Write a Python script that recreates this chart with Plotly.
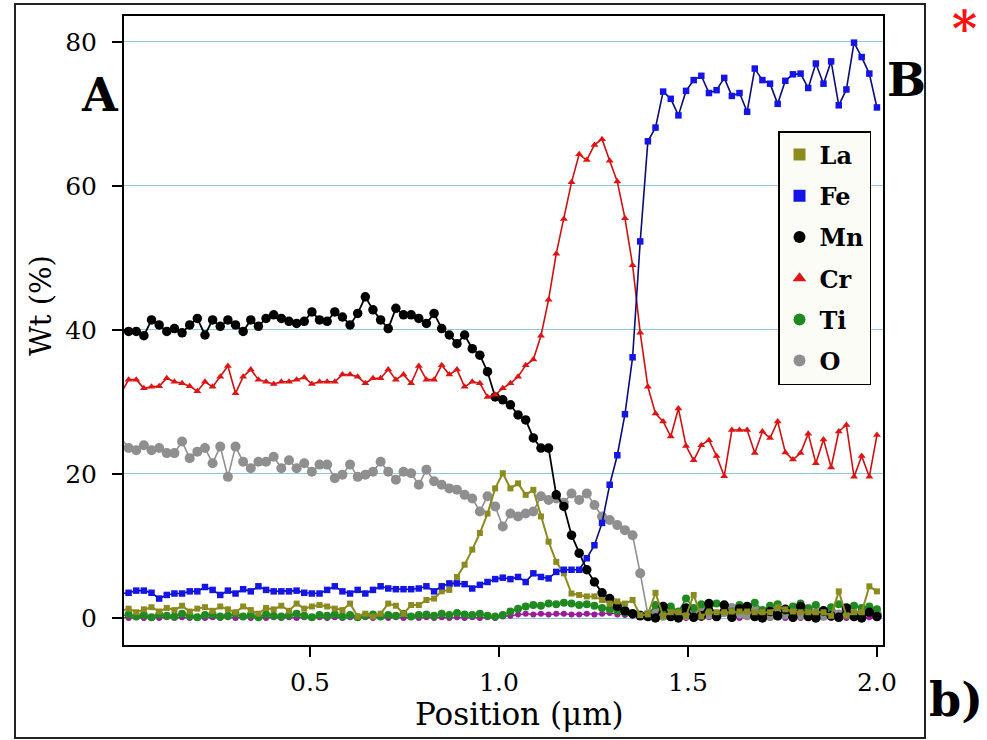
import numpy as np
import plotly.graph_objects as go

# ---------------- data ----------------
position = np.linspace(0.0, 2.0, 100).tolist()

la = [1.0, 1.3, 0.8, 1.2, 1.5, 0.9, 1.4, 1.1, 1.7, 0.9, 1.3, 1.5, 1.0, 1.6, 1.2, 0.8, 1.6, 1.1, 0.6, 1.4,
      1.2, 1.7, 1.0, 2.0, 1.3, 1.6,
      1.8, 1.6, 1.3, 1.1, 2.0, 0.2, 0.6, 0.2, 0.6, 2.0, 1.7, 0.6, 1.8, 1.8,
      2.5, 2.7, 3.7, 3.9, 5.7, 7.4, 9.5, 11.8, 14.5, 18.0, 20.1, 18.0, 18.7, 17.1, 17.8, 14.1, 10.6, 7.8, 6.2,
      3.4, 3.2, 3.0, 3.0, 2.5, 2.0, 2.3, 2.0, 2.5, 0.4,
      0.5, 3.5, 0.3, 0.8, 0.8, 0.3, 3.2, 0.2, 0.8, 0.8, 0.8, 0.9, 0.9, 0.9, 0.8, 0.8, 0.8, 1.5, 1.2, 0.9,
      0.8, 0.8, 0.8, 0.8, 0.3, 3.7, 0.3, 0.8, 0.8, 4.4, 3.7]

fe = [3.4, 3.5, 3.8, 3.8, 3.5, 2.7, 3.2, 3.4, 3.4, 3.7, 3.7, 4.3, 3.9, 3.2, 3.8, 3.4, 4.0, 3.7, 4.4, 3.9,
      3.7, 3.7, 3.7, 3.8, 3.5, 3.4,
      3.4, 3.9, 4.4, 3.7, 3.4, 3.9, 3.4, 3.9, 4.4, 4.1, 4.0, 4.0, 4.0, 4.1, 4.4, 3.7, 4.4, 4.8, 4.8, 4.7,
      4.1, 4.6,
      5.0, 5.4, 5.6, 5.4, 5.7, 5.0, 6.2, 5.7, 5.5, 6.4, 6.7, 6.7, 6.7, 8.3, 10.1, 13.2, 18.5, 22.6, 28.3,
      36.2, 52.3,
      66.2, 68.1, 73.1, 72.1, 69.8, 73.2, 74.7, 75.3, 72.9, 73.3, 75.0, 72.5, 72.9, 70.3, 76.3, 74.7, 74.2,
      71.4, 74.6, 75.5, 75.6, 73.6, 77.0, 74.2, 77.3, 71.2, 73.4, 79.9, 77.9, 75.6, 70.9]

mn = [40.2, 39.8, 39.8, 39.2, 41.4, 40.7, 39.8, 40.2, 39.6, 40.7, 41.6, 39.3, 41.4, 40.5, 41.4, 40.7, 39.8,
      41.4, 40.5, 41.6, 42.1, 41.6, 41.2, 40.9, 41.2, 42.5, 41.4, 41.2, 42.5, 41.8, 40.7, 42.3, 44.6, 42.8,
      41.4, 40.2, 43.0, 42.1, 42.1, 41.6, 40.9, 42.3, 40.2, 39.3, 38.1, 39.3, 37.4, 36.5, 34.2,
      30.7, 30.3, 29.6, 28.2, 27.5, 25.0, 23.6, 23.6, 17.1, 15.5, 11.5, 9.0, 6.7, 5.0, 3.5,
      2.7, 1.6, 1.0, 0.6, 0.3, 0.2, 0.0, 1.6, 0.2, 0.0, 1.4, 0.1, 0.3, 2.0, 0.2, 1.8, 0.1, 1.3, 1.6, 0.2,
      0.0, 0.9, 0.3, 1.2, 0.1, 1.6, 0.2, 0.0, 1.0, 0.3, 0.1, 1.4, 0.2, 0.0, 0.8, 0.2]

cr = [31.2, 33.1, 33.1, 31.9, 32.1, 32.2, 33.3, 32.8, 32.6, 32.2, 31.5, 32.8, 32.1, 33.5, 35.0, 31.2, 33.5,
      34.5, 33.1, 32.8, 32.5, 32.8, 32.8, 33.1, 33.4, 32.5,
      32.8, 32.8, 32.8, 33.8, 33.8, 33.5, 32.6, 33.3, 33.3, 34.5, 33.1, 33.8, 32.6, 35.0, 33.1, 33.1, 35.1,
      33.8, 34.5, 32.1, 32.8, 32.6, 30.7, 31.0,
      31.9, 32.6, 33.5, 35.1, 35.9, 39.2, 44.2, 50.6, 55.4, 60.5, 64.4, 63.6, 65.7, 66.5, 63.5, 60.6, 55.5,
      49.0, 39.6,
      32.1, 28.4, 27.3, 25.2, 29.1, 23.9, 21.9, 24.0, 24.7, 22.5, 19.7, 26.1, 26.1, 26.1, 22.9, 25.9, 25.0,
      27.3, 23.0, 22.0, 22.9, 25.6, 21.5, 24.8, 20.9, 25.9, 26.8, 19.6, 22.5, 19.6, 25.4]

ti = [0.3, 0.5, 0.2, 0.4, 0.1, 0.5, 0.3, 0.2, 0.6, 0.3, 0.1, 0.4, 0.5, 0.2, 0.3, 0.6, 0.2, 0.4, 0.1, 0.5,
      0.3, 0.2, 0.4, 0.6, 0.3, 0.1, 0.4, 0.3, 0.5, 0.2, 0.4, 0.1, 0.3, 0.5, 0.2, 0.4, 0.3, 0.6, 0.2, 0.4,
      0.5, 0.3, 0.6, 0.4, 0.7, 0.5, 0.4, 0.6, 0.3, 0.2,
      0.4, 0.9, 1.3, 1.6, 1.8, 1.7, 2.0, 1.9, 2.1, 2.0, 1.8, 1.9, 1.7, 1.4, 1.2, 1.0, 0.8, 0.6, 0.5,
      0.4, 1.8, 1.0, 1.6, 0.9, 2.7, 1.4, 1.9, 1.2, 2.0, 1.7, 0.9, 1.8, 1.5, 2.1, 1.1, 1.7, 1.9, 1.0, 1.6,
      2.0, 1.3, 1.8, 0.8, 1.5, 1.9, 1.2, 1.7, 1.4, 1.6, 1.2]

o = [25.0, 23.6, 23.3, 24.0, 23.3, 23.6, 22.9, 22.9, 24.5, 22.2, 23.1, 23.6, 21.5, 23.8, 19.6, 23.8, 21.7,
     20.8, 21.7, 21.7, 22.4, 20.8, 21.9, 20.8, 21.5, 20.3,
     21.3, 21.3, 19.4, 19.9, 21.3, 19.6, 19.9, 20.3, 21.7, 20.3, 19.2, 20.3, 20.1, 18.5, 20.6, 19.0, 18.5,
     18.0, 17.8, 17.1, 16.6,
     14.8, 16.9, 15.5, 12.7, 14.5, 14.1, 14.5, 14.8, 16.9, 16.4, 16.6, 16.0, 17.3, 16.4, 17.3, 15.7, 14.1,
     13.6, 12.9, 12.2, 11.5, 6.2,
     0.5, 0.8, 0.3, 1.0, 0.6, 0.4, 0.9, 1.2, 0.5, 0.3, 0.8, 1.4, 0.6, 0.4, 1.0, 0.7, 0.3, 1.1, 0.5, 0.8,
     0.4, 1.3, 0.6, 0.3, 0.9, 0.5, 1.0, 0.4, 0.7, 1.2, 0.5]

other = [0.1, 0.0, 0.1, 0.0, 0.1, 0.0, 0.1, 0.0, 0.1, 0.0, 0.1, 0.0, 0.1, 0.0, 0.1, 0.0, 0.1,
         0.0, 0.1, 0.0, 0.1, 0.0, 0.1, 0.0, 0.1, 0.0, 0.1, 0.0, 0.1, 0.0, 0.1, 0.0, 0.1, 0.0, 0.1, 0.0,
         0.1, 0.0, 0.1, 0.0, 0.1, 0.0, 0.1, 0.0, 0.1, 0.0, 0.1, 0.0, 0.1, 0.0,
         0.2, 0.3, 0.5, 0.6, 0.5, 0.6, 0.5, 0.6, 0.6, 0.5, 0.5, 0.6, 0.5, 0.6, 0.7, 0.5, 0.4, 0.3, 0.2,
         0.1, 0.0, 0.1, 0.0, 0.1, 0.0, 0.1, 0.0, 0.1, 0.0, 0.6, 0.1, 0.0, 0.1, 0.0, 0.1, 0.0, 0.1, 0.0,
         0.1, 0.0, 0.1, 0.0, 0.1, 0.0, 0.1, 0.0, 0.1, 0.0, 0.1, 0.0]

y_ticks = [0, 20, 40, 60, 80]
x_ticks = [0.5, 1.0, 1.5, 2.0]
x_tick_labels = ["0.5", "1.0", "1.5", "2.0"]

# ---------------- figure ----------------
SERIF = "DejaVu Serif"
fig = go.Figure()

series = [
    # name, values, symbol, marker color, line color, marker size, line width
    ("other", other, "circle", "#9b1b9b", "#9b1b9b", 6, 1.5),
    ("O", o, "circle", "#8f8f8f", "#8f8f8f", 10, 1.6),
    ("Ti", ti, "circle", "#1f8a1f", "#1f8a1f", 8, 1.5),
    ("Mn", mn, "circle", "#000000", "#000000", 9.5, 1.8),
    ("La", la, "square", "#8b8b1f", "#8b8b1f", 6, 2.0),
    ("Cr", cr, "triangle-up", "#e01414", "#d01010", 7, 1.6),
    ("Fe", fe, "square", "#1414e6", "#0c0c78", 6.5, 1.6),
]
for name, vals, sym, mc, lc, ms, lw in series:
    fig.add_trace(go.Scatter(
        x=position, y=vals, mode="lines+markers", name=name, showlegend=False,
        line=dict(color=lc, width=lw),
        marker=dict(symbol=sym, color=mc, size=ms, line=dict(width=0)),
        cliponaxis=False,
    ))

legend_items = [("La", "square", "#8b8b1f"), ("Fe", "square", "#1414e6"), ("Mn", "circle", "#000000"),
                ("Cr", "triangle-up", "#e01414"), ("Ti", "circle", "#1f8a1f"), ("O", "circle", "#8f8f8f")]
for name, sym, col in legend_items:
    fig.add_trace(go.Scatter(
        x=[None], y=[None], mode="markers", name=name, legendgroup=name,
        marker=dict(symbol=sym, color=col, size=12),
    ))

# plot area geometry (page pixels)
L, T, R, B = 124, 16, 883, 645
W, H = 987, 740
pw, ph = R - L, B - T


def px(xp):
    return (xp - L) / pw


def py(yp):
    return (B - yp) / ph


fig.update_layout(
    width=W, height=H,
    margin=dict(l=L, r=W - R, t=T, b=H - B, autoexpand=False),
    paper_bgcolor="white", plot_bgcolor="white",
    font=dict(family=SERIF, color="black"),
    showlegend=True,
    legend=dict(
        x=px(778), y=py(131), xanchor="left", yanchor="top",
        bgcolor="#fcfcf7", bordercolor="black", borderwidth=1.5,
        font=dict(family=SERIF, size=24, color="black", weight="bold"),
        tracegroupgap=7, itemsizing="constant",
    ),
    xaxis=dict(
        range=[0.008, 2.016], tickvals=x_ticks, ticktext=x_tick_labels,
        showgrid=False, zeroline=False,
        showline=True, linecolor="black", linewidth=2, mirror=True,
        ticks="outside", ticklen=10, tickwidth=2, tickcolor="black",
        tickfont=dict(family=SERIF, size=25, color="black"),
        ticklabelstandoff=4,
    ),
    yaxis=dict(
        range=[-3.75, 83.6], tickvals=y_ticks,
        showgrid=True, gridcolor="#86cbd8", gridwidth=1.4, zeroline=False,
        showline=True, linecolor="black", linewidth=2, mirror=True,
        ticks="outside", ticklen=10, tickwidth=2, tickcolor="black",
        tickfont=dict(family=SERIF, size=25, color="black"),
        ticklabelstandoff=10,
    ),
)

annotations = [
    dict(text="Position (μm)", x=px(519), y=py(714), font=dict(size=31)),
    dict(text="Wt (%)", x=px(41), y=py(306), textangle=-90, font=dict(size=29)),
    dict(text="<b>A</b>", x=px(100), y=py(95), font=dict(size=46)),
    dict(text="<b>B</b>", x=px(906), y=py(80), font=dict(size=46)),
    dict(text="<b>b)</b>", x=px(956), y=py(700), font=dict(size=46)),
    dict(text="<b>*</b>", x=px(965), y=py(29), font=dict(size=48, color="#ff1010"), borderpad=0),
]
for a in annotations:
    fig.add_annotation(xref="paper", yref="paper", showarrow=False, xanchor="center", yanchor="middle",
                       font_family=SERIF, **a)

fig.add_shape(type="rect", xref="paper", yref="paper",
              x0=px(15), x1=px(925), y0=py(738), y1=py(4),
              line=dict(color="#222222", width=2), layer="above")

# remove the default 8px page margin so the figure sits at the window's top-left corner
fig.write_html("out.html", config={"displayModeBar": False},
               post_script="document.body.style.margin='0px';document.body.style.overflow='hidden';")
